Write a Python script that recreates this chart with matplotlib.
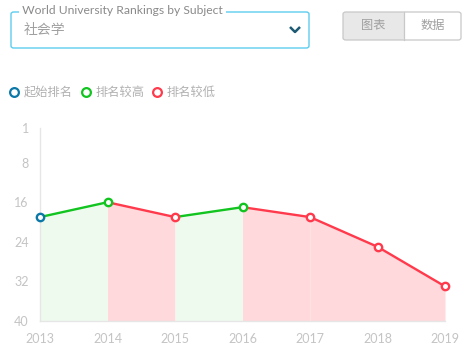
import matplotlib
matplotlib.use("Agg")
import matplotlib.pyplot as plt
from matplotlib.patches import FancyBboxPatch
from matplotlib.lines import Line2D

plt.rcParams['font.family'] = ['Lato', 'Noto Sans CJK SC', 'DejaVu Sans']

years = ['2013', '2014', '2015', '2016', '2017', '2018', '2019']
ranks = [19, 16, 19, 17, 19, 25, 33]
ytick_vals = [1, 8, 16, 24, 32, 40]
title_text = 'World University Rankings by Subject'
subject = '社会学'
buttons = ['图表', '数据']
legend_labels = ['起始排名', '排名较高', '排名较低']

BLUE = '#0b78a8'
GREEN = '#12c41f'
RED = '#ff3a4c'
GREEN_FILL = '#effaee'
RED_FILL = '#ffd9dc'
GRAY_TXT = '#c4c4c4'

W, H = 468, 349
fig = plt.figure(figsize=(W / 100, H / 100), dpi=100)

def fx(px):
    return px / W

def fy(py):
    return 1 - py / H

ax = fig.add_axes([fx(40), fy(321), fx(445) - fx(40), fy(128) - fy(321)])
x = list(range(len(years)))
ax.set_xlim(0, len(years) - 1)
ax.set_ylim(40, 1)

for i in range(len(x) - 1):
    up = ranks[i + 1] < ranks[i]
    c = GREEN if up else RED
    fc = GREEN_FILL if up else RED_FILL
    ax.fill_between([x[i], x[i + 1]], [ranks[i], ranks[i + 1]], 40, color=fc, lw=0, zorder=1)
    ax.plot([x[i], x[i + 1]], [ranks[i], ranks[i + 1]], color=c, lw=1.7, zorder=2, solid_capstyle='round')

for i in range(len(x)):
    if i == 0:
        c = BLUE
    else:
        c = GREEN if ranks[i] < ranks[i - 1] else RED
    ax.plot(x[i], ranks[i], 'o', ms=5.3, mfc='white', mec=c, mew=1.7, zorder=3, clip_on=False)

ax.set_yticks(ytick_vals)
ax.set_xticks(x)
ax.set_xticklabels(years)
ax.tick_params(length=0, colors=GRAY_TXT, labelsize=9)
ax.tick_params(axis='y', pad=8)
ax.tick_params(axis='x', pad=8.5)
for s in ['top', 'right']:
    ax.spines[s].set_visible(False)
ax.spines['left'].set_color('#e6e6e6')
ax.spines['bottom'].set_color('#e6e6e6')
ax.spines['left'].set_linewidth(1)
ax.spines['bottom'].set_linewidth(1)
ax.patch.set_alpha(0)

# Header select box
box = FancyBboxPatch((fx(11), fy(48)), fx(309) - fx(11), fy(12) - fy(48),
                     boxstyle='round,pad=0,rounding_size=0.006', transform=fig.transFigure,
                     fc='white', ec='#5ccdf0', lw=1.0)
fig.patches.append(box)
fig.text(fx(19), fy(11), ' ' + title_text + ' ', fontsize=8.7, color='#8a8a8a', va='center', ha='left',
         bbox=dict(fc='white', ec='none', pad=0))
fig.text(fx(24), fy(30), subject, fontsize=10, color='#a0a0a0', va='center', ha='left',
         family=['Noto Sans CJK SC'])
fig.add_artist(Line2D([fx(290), fx(295), fx(300)], [fy(27), fy(32), fy(27)],
                      transform=fig.transFigure, color='#1d5a73', lw=1.8, solid_capstyle='butt'))

# Button group
bx0, bx1, bxm, by0, by1 = 343, 461, 404, 12, 40
left_btn = FancyBboxPatch((fx(bx0), fy(by1)), fx(bxm) - fx(bx0), fy(by0) - fy(by1),
                          boxstyle='round,pad=0,rounding_size=0.005', transform=fig.transFigure,
                          fc='#e8e8e8', ec='none')
fig.patches.append(left_btn)
outer = FancyBboxPatch((fx(bx0), fy(by1)), fx(bx1) - fx(bx0), fy(by0) - fy(by1),
                       boxstyle='round,pad=0,rounding_size=0.006', transform=fig.transFigure,
                       fc='none', ec='#c8c8c8', lw=0.9)
fig.patches.append(outer)
fig.add_artist(Line2D([fx(bxm), fx(bxm)], [fy(by0), fy(by1)], transform=fig.transFigure,
                      color='#c8c8c8', lw=0.9))
fig.text(fx((bx0 + bxm) / 2), fy(25), buttons[0], fontsize=8.8, color='#a0a0a0', ha='center', va='center',
         family=['Noto Sans CJK SC'])
fig.text(fx((bxm + bx1) / 2), fy(25), buttons[1], fontsize=8.8, color='#a0a0a0', ha='center', va='center',
         family=['Noto Sans CJK SC'])

# Legend
leg_items = [(14, BLUE), (86, GREEN), (157, RED)]
for (lx, col), lab in zip(leg_items, legend_labels):
    fig.add_artist(Line2D([fx(lx)], [fy(92)], marker='o', ms=6.3, mfc='white', mec=col, mew=1.6,
                          transform=fig.transFigure, ls='none'))
    fig.text(fx(lx + 9.5), fy(92.5), lab, fontsize=8.8, color='#b0b0b0', ha='left', va='center',
             family=['Noto Sans CJK SC'])

fig.savefig('out.png', dpi=100)
